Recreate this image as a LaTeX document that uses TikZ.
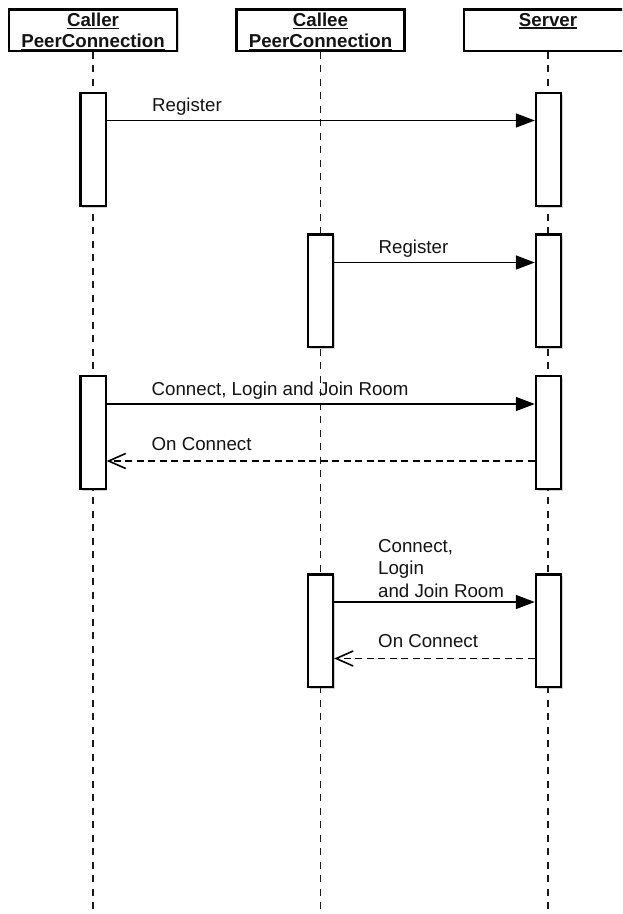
\documentclass[tikz,border=0pt]{standalone}
\usepackage{fontspec}
\setmainfont{Liberation Sans}
\usetikzlibrary{arrows.meta,shadows}

% underlined word with a rule drawn by hand
\newcommand\ulword[1]{\setbox0\hbox{#1}\rlap{\rule[-2.6pt]{\wd0}{1.4pt}}\box0}

\begin{document}
\begin{tikzpicture}[x=1pt,y=-1pt,
  font=\fontsize{18.7}{22}\selectfont,
  lifeline/.style={draw=black!90, line width=1.9pt, dash pattern=on 7pt off 6.5pt},
  shade/.style={drop shadow={shadow xshift=1.6pt, shadow yshift=-1.6pt, opacity=0.3, fill=black!60}},
  headbox/.style={draw=black, line width=2.2pt, fill=white, inner sep=0pt,
    minimum width=168pt, minimum height=41.2pt, shade},
  actbox/.style={draw=black, line width=2.2pt, fill=white, inner sep=0pt,
    minimum width=25.2pt, minimum height=112.8pt, shade},
  msg/.style={draw=black, line width=1.6pt, -{Triangle[length=19pt,width=14pt]}},
  reply/.style={draw=black, line width=1.6pt, dash pattern=on 7pt off 4.5pt,
    -{Straight Barb[length=17pt,width=15pt]}},
  lbl/.style={anchor=base west, inner sep=0pt, text=black!92},
  hlbl/.style={anchor=base, inner sep=0pt, text=black!92,
    font=\fontsize{18.7}{22}\selectfont\bfseries}]

\fill[white] (0,0) rectangle (622,914);
\useasboundingbox (0,0) rectangle (622,914);
\clip (0,0) rectangle (622,914);

\coordinate (bottom) at (0,914);

% participants
\node[headbox] (caller) at (93,30) {};
\node[headbox] (callee) at (320.5,30) {};
\node[headbox] (server) at (548,30) {};

\node[hlbl] (callerA) at (93,26.5) {\ulword{Caller}};
\node[hlbl] (callerB) at (93,47.5) {\ulword{PeerConnection}};
\node[hlbl] (calleeA) at (320.5,26.5) {\ulword{Callee}};
\node[hlbl] (calleeB) at (320.5,47.5) {\ulword{PeerConnection}};
\node[hlbl] (serverA) at (548,26) {\ulword{Server}};

% lifelines
\draw[lifeline] (caller.south) -- (caller.south |- bottom);
\draw[lifeline] (callee.south) -- (callee.south |- bottom);
\draw[lifeline] (server.south) -- (server.south |- bottom);

% activations
\node[actbox] (a1) at (93,149.5) {};
\node[actbox] (s1) at (548.5,149.5) {};
\node[actbox] (b2) at (320.5,290.8) {};
\node[actbox] (s2) at (548.5,290.8) {};
\node[actbox] (a3) at (93,432.5) {};
\node[actbox] (s3) at (548.5,432.5) {};
\node[actbox] (b4) at (320.5,630.8) {};
\node[actbox] (s4) at (548.5,630.8) {};

% message heights
\coordinate (y1) at (0,120.5);
\coordinate (y2) at (0,262.5);
\coordinate (y3) at (0,404);
\coordinate (y3r) at (0,461);
\coordinate (y4) at (0,602);
\coordinate (y4r) at (0,658.5);

% caller registers
\draw[msg] (a1.east |- y1) -- (s1.west |- y1);
\node[lbl] (t1) at (152,111) {Register};

% callee registers
\draw[msg] (b2.east |- y2) -- (s2.west |- y2);
\node[lbl] (t2) at (378.5,253) {Register};

% caller connects
\draw[msg] (a3.east |- y3) -- (s3.west |- y3);
\node[lbl] (t3) at (151.5,395) {Connect, Login and Join Room};
\draw[reply] (s3.west |- y3r) -- (a3.east |- y3r);
\node[lbl] (t3r) at (151.5,450.5) {On Connect};

% callee connects
\draw[msg] (b4.east |- y4) -- (s4.west |- y4);
\node[lbl] (t4a) at (378,552) {Connect,};
\node[lbl] (t4b) at (378,574.5) {Login};
\node[lbl] (t4c) at (378,597) {and Join Room};
\draw[reply] (s4.west |- y4r) -- (b4.east |- y4r);
\node[lbl] (t4r) at (378,647.5) {On Connect};

\end{tikzpicture}
\end{document}
